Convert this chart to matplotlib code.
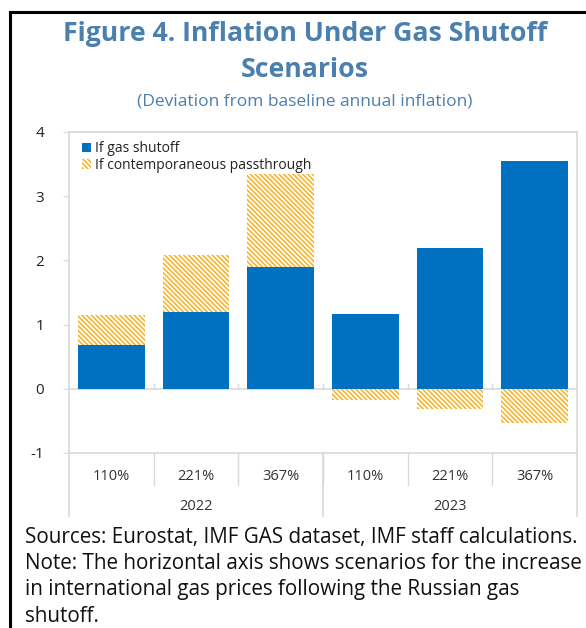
import matplotlib
matplotlib.use("Agg")
import matplotlib.pyplot as plt
from matplotlib.patches import Patch
from matplotlib.lines import Line2D
import numpy as np

plt.rcParams['font.family'] = ['Open Sans', 'DejaVu Sans']
plt.rcParams['hatch.linewidth'] = 1.2

scenarios = ["110%", "221%", "367%", "110%", "221%", "367%"]
years = ["2022", "2023"]
gas_shutoff = [0.68, 1.19, 1.90, 1.16, 2.20, 3.55]
passthrough = [0.47, 0.89, 1.45, -0.18, -0.31, -0.53]

blue = "#0070C0"
hatch_col = "#F7B531"
title_col = "#4A7FAE"
grid_col = "#D9D9D9"
HATCH = '\\' * 7

fig = plt.figure(figsize=(5.86, 6.28), dpi=100)
W, H = 586, 628
ax = fig.add_axes([69/W, 1-453/H, (577-69)/W, (453-132)/H])

x = np.arange(len(scenarios))
bw = 0.79
ax.bar(x, gas_shutoff, width=bw, color=blue, edgecolor='none', zorder=2)
bottoms = [g if p > 0 else 0 for g, p in zip(gas_shutoff, passthrough)]
ax.bar(x, passthrough, width=bw, bottom=bottoms, color='white', edgecolor=hatch_col,
       hatch=HATCH, linewidth=0, zorder=2)

ax.set_xlim(-0.5, len(scenarios)-0.5)
ax.set_ylim(-1, 4)
ax.set_yticks([-1, 0, 1, 2, 3, 4])
ax.set_yticklabels(["-1", "0", "1", "2", "3", "4"])
ax.tick_params(axis='y', length=4, color=grid_col, pad=14, labelsize=11, labelcolor='#222222')
ax.set_xticks([])
for s in ax.spines.values():
    s.set_color(grid_col)
    s.set_linewidth(1.2)
ax.axhline(0, color=grid_col, lw=1.2, zorder=1)
# small ticks at category boundaries on zero line
for b in np.arange(0.5, len(scenarios)-0.5, 1):
    ax.plot([b, b], [0, 0.08], color=grid_col, lw=1, zorder=1)

# category labels and separators below axis
trans = ax.get_xaxis_transform()
axh = 453-132
def yax(py):
    return (453-py)/axh
for i, s in enumerate(scenarios):
    ax.text(i, yax(476), s, transform=trans, ha='center', va='center', fontsize=10.5, color='#333333')
for b in np.arange(0.5, len(scenarios)-0.5, 1):
    ax.plot([b, b], [0, yax(485)], transform=trans, color=grid_col, lw=1, clip_on=False)
for b in [-0.5, 2.5, 5.5]:
    ax.plot([b, b], [0, yax(516)], transform=trans, color=grid_col, lw=1.2, clip_on=False)
for j, yr in enumerate(years):
    ax.text(j*3+1, yax(507), yr, transform=trans, ha='center', va='center', fontsize=10.5, color='#333333')

handles = [Patch(facecolor=blue, edgecolor='none'),
           Patch(facecolor='white', edgecolor=hatch_col, hatch=HATCH, linewidth=0)]
leg = ax.legend(handles, ["If gas shutoff", "If contemporaneous passthrough"],
                loc='upper left', bbox_to_anchor=(0.0, 1.01), frameon=False,
                fontsize=10, handlelength=0.7, handleheight=0.7, handletextpad=0.3,
                labelspacing=0.1, borderaxespad=0.5)
for t in leg.get_texts():
    t.set_color('#222222')

# titles
fig.text(305/W, 1-34/H, "Figure 4. Inflation Under Gas Shutoff", ha='center', va='center',
         fontsize=19.2, fontweight='bold', color=title_col)
fig.text(305/W, 1-70/H, "Scenarios", ha='center', va='center',
         fontsize=19.2, fontweight='bold', color=title_col)
fig.text(305/W, 1-102/H, "(Deviation from baseline annual inflation)", ha='center', va='center',
         fontsize=12.5, color=title_col)

notes = ["Sources: Eurostat, IMF GAS dataset, IMF staff calculations.",
         "Note: The horizontal axis shows scenarios for the increase",
         "in international gas prices following the Russian gas",
         "shutoff."]
for k, line in enumerate(notes):
    fig.text(25/W, 1-(537+26.5*k)/H, line, ha='left', va='center', fontsize=14.9, color='#111111')

# outer frame
fig.add_artist(Line2D([10/W, 10/W], [0, 1-12/H], color='black', lw=2.2, transform=fig.transFigure))
fig.add_artist(Line2D([10/W, 1], [1-12/H, 1-12/H], color='black', lw=2.2, transform=fig.transFigure))

fig.savefig("out.png", dpi=100)
